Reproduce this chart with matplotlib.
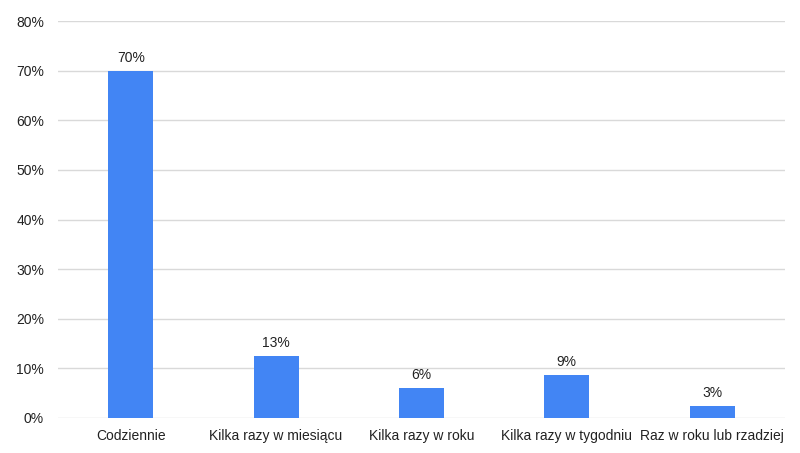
import matplotlib
matplotlib.use("Agg")
import matplotlib.pyplot as plt
from matplotlib.ticker import FuncFormatter

categories = ["Codziennie", "Kilka razy w miesiącu", "Kilka razy w roku",
              "Kilka razy w tygodniu", "Raz w roku lub rzadziej"]
values = [70.0, 12.5, 6.1, 8.7, 2.5]
labels = ["70%", "13%", "6%", "9%", "3%"]
yticks = [0, 10, 20, 30, 40, 50, 60, 70, 80]

plt.rcParams['font.family'] = ['Liberation Sans', 'DejaVu Sans']

fig = plt.figure(figsize=(8, 4.53), dpi=100)
ax = fig.add_axes([0.0725, 0.0773, 0.9087, 0.8763])

x = range(len(categories))
bars = ax.bar(x, values, width=0.31, color="#4285f4", zorder=3)
for b, lab in zip(bars, labels):
    ax.text(b.get_x() + b.get_width() / 2, b.get_height() + 1.2, lab,
            ha="center", va="bottom", fontsize=10, color="#222222")

ax.set_xlim(-0.5, 4.5)
ax.set_ylim(0, 80)
ax.set_yticks(yticks)
ax.yaxis.set_major_formatter(FuncFormatter(lambda v, p: f"{v:.0f}%"))
ax.set_xticks(list(x))
ax.set_xticklabels(categories)
ax.grid(axis="y", color="#d9d9d9", linewidth=1, zorder=0)
for s in ax.spines.values():
    s.set_visible(False)
ax.tick_params(length=0, labelsize=10, colors="#222222")
ax.tick_params(axis="x", pad=8)
ax.tick_params(axis="y", pad=10)

fig.savefig("out.png", dpi=100)
